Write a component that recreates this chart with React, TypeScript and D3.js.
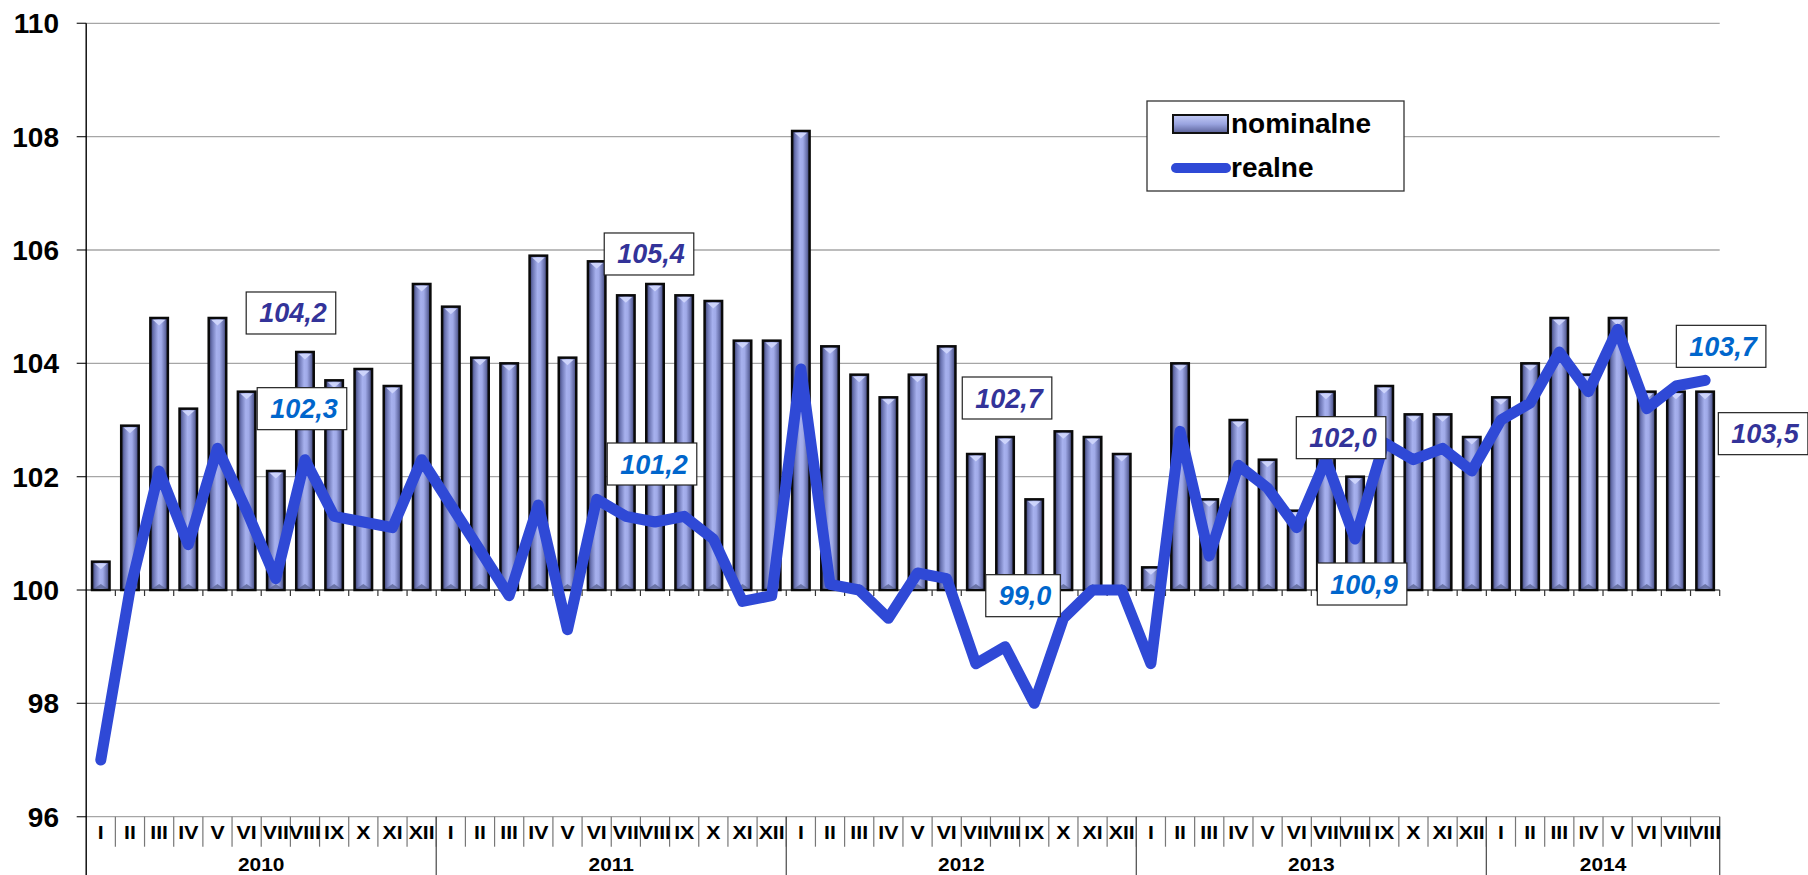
import React from 'react';
import * as d3 from 'd3';

// monthly index, same month previous year = 100
const years = ['2010', '2011', '2012', '2013', '2014'];
const romanMonths = ['I', 'II', 'III', 'IV', 'V', 'VI', 'VII', 'VIII', 'IX', 'X', 'XI', 'XII'];
const monthsInYear = [12, 12, 12, 12, 8];

const nominal = [
  100.5, 102.9, 104.8, 103.2, 104.8, 103.5, 102.1, 104.2, 103.7, 103.9, 103.6, 105.4,
  105.0, 104.1, 104.0, 105.9, 104.1, 105.8, 105.2, 105.4, 105.2, 105.1, 104.4, 104.4,
  108.1, 104.3, 103.8, 103.4, 103.8, 104.3, 102.4, 102.7, 101.6, 102.8, 102.7, 102.4,
  100.4, 104.0, 101.6, 103.0, 102.3, 101.4, 103.5, 102.0, 103.6, 103.1, 103.1, 102.7,
  103.4, 104.0, 104.8, 103.8, 104.8, 103.5, 103.5, 103.5,
];

const real = [
  97.0, 100.0, 102.1, 100.8, 102.5, 101.4, 100.2, 102.3, 101.3, 101.2, 101.1, 102.3,
  101.5, 100.7, 99.9, 101.5, 99.3, 101.6, 101.3, 101.2, 101.3, 100.9, 99.8, 99.9,
  103.9, 100.1, 100.0, 99.5, 100.3, 100.2, 98.7, 99.0, 98.0, 99.5, 100.0, 100.0,
  98.7, 102.8, 100.6, 102.2, 101.8, 101.1, 102.3, 100.9, 102.6, 102.3, 102.5, 102.1,
  103.0, 103.3, 104.2, 103.5, 104.6, 103.2, 103.6, 103.7,
];

const yTicks = [96, 98, 100, 102, 104, 106, 108, 110];

// labelled months (VIII of each year)
const labelMonths = [7, 19, 31, 43, 55];
const nominalLabelOffsets = [[-14, -39], [-6, -30], [2, -39], [-14, -39], [58, 42]];
const realLabelOffsets = [[-3, -51], [-3, -58], [18, -51], [7, 45], [16, -34]];

const W = 1808;
const H = 875;
const FONT = '"Liberation Sans", Arial, sans-serif';
const LINE_COLOR = '#2f49d6';

const months: string[] = [];
monthsInYear.forEach(n => {
  for (let m = 0; m < n; m++) months.push(romanMonths[m]);
});
const idx = months.map((_, i) => i);

const fmt = (v: number) => d3.format('.1f')(v).replace('.', ',');

const ValueLabel: React.FC<{ cx: number; cy: number; text: string; color: string }> = ({ cx, cy, text, color }) => {
  const fs = 27;
  const digits = text.replace(',', '').length;
  const w = (digits * 0.556 + 0.278) * fs + 22;
  const h = 42;
  return (
    <g>
      <rect x={cx - w / 2} y={cy - h / 2} width={w} height={h} fill="#fff" stroke="#222" strokeWidth={1.2} />
      <text
        x={cx + 2}
        y={cy + 9.5}
        textAnchor="middle"
        fontFamily={FONT}
        fontSize={fs}
        fontWeight="bold"
        fontStyle="italic"
        fill={color}
      >
        {text}
      </text>
    </g>
  );
};

const App: React.FC = () => {
  const left = 86.2;
  const right = 1719.7;
  const top = 23.3;
  const bottom = 816.7;

  const x = d3.scaleBand<number>().domain(idx).range([left, right]).padding(0);
  const y = d3.scaleLinear().domain([96, 110]).range([bottom, top]);
  const bw = x.bandwidth();
  const barW = bw * 0.6;
  const cx = (i: number) => (x(i) as number) + bw / 2;

  const line = d3.line<number>()
    .x((_, i) => cx(i))
    .y(d => y(d))
    .curve(d3.curveLinear);

  // year boundaries
  const yearStarts: number[] = [];
  let acc = 0;
  monthsInYear.forEach(n => { yearStarts.push(acc); acc += n; });

  return (
    <svg
      width={W}
      height={H}
      style={{ position: 'absolute', left: 0, top: 0, background: '#fff' }}
    >
      <defs>
        <linearGradient id="barGrad" x1="0" x2="1" y1="0" y2="0">
          <stop offset="0%" stopColor="#363b68" />
          <stop offset="18%" stopColor="#6b74b2" />
          <stop offset="45%" stopColor="#a7b1ee" />
          <stop offset="62%" stopColor="#a0aae8" />
          <stop offset="85%" stopColor="#666ea8" />
          <stop offset="100%" stopColor="#363b68" />
        </linearGradient>
        <linearGradient id="legendGrad" x1="0" x2="0" y1="0" y2="1">
          <stop offset="0%" stopColor="#c4ccf6" />
          <stop offset="50%" stopColor="#9aa4e0" />
          <stop offset="100%" stopColor="#5a6198" />
        </linearGradient>
      </defs>

      {/* gridlines */}
      {yTicks.map(t => (
        <g key={t}>
          <line
            x1={left}
            x2={right}
            y1={y(t)}
            y2={y(t)}
            stroke={t === 100 ? '#555' : '#a6a6a6'}
            strokeWidth={t === 100 ? 1.6 : 1.3}
          />
          <line x1={left - 9.5} x2={left} y1={y(t)} y2={y(t)} stroke="#333" strokeWidth={1.3} />
          <text
            x={59}
            y={y(t) + 10}
            textAnchor="end"
            fontFamily={FONT}
            fontSize={28}
            fontWeight="bold"
            fill="#000"
          >
            {t}
          </text>
        </g>
      ))}

      {/* month ticks on 100 axis */}
      {idx.slice(1).map(i => (
        <line key={'t' + i} x1={x(i)} x2={x(i)} y1={y(100)} y2={y(100) + 6} stroke="#333" strokeWidth={1.2} />
      ))}
      <line x1={right} x2={right} y1={y(100)} y2={y(100) + 6} stroke="#333" strokeWidth={1.2} />

      {/* bars */}
      {nominal.map((v, i) => {
        const bx = (x(i) as number) + (bw - barW) / 2;
        const by = y(v);
        const bh = y(100) - y(v);
        return (
          <g key={'b' + i}>
            <rect x={bx} y={by} width={barW} height={bh} fill="url(#barGrad)" stroke="#0a0a0a" strokeWidth={2.5} />
            <path
              d={`M${bx + 2.5},${by + 1.8} L${bx + barW - 2.5},${by + 1.8} L${bx + barW / 2},${by + 7.5} Z`}
              fill="#cdd4fb"
            />
            <path
              d={`M${bx + 2.5},${by + bh - 1.8} L${bx + barW - 2.5},${by + bh - 1.8} L${bx + barW / 2},${by + bh - 6} Z`}
              fill="#5d6595"
              opacity={0.8}
            />
          </g>
        );
      })}

      {/* real line */}
      <path
        d={line(real) || ''}
        fill="none"
        stroke={LINE_COLOR}
        strokeWidth={11}
        strokeLinejoin="round"
        strokeLinecap="round"
      />

      {/* left axis */}
      <line x1={left} x2={left} y1={top} y2={H} stroke="#000" strokeWidth={1.4} />

      {/* category table at bottom */}
      {idx.slice(1).map(i => (
        <line key={'s' + i} x1={x(i)} x2={x(i)} y1={bottom} y2={bottom + 30} stroke="#777" strokeWidth={1.2} />
      ))}
      {yearStarts.slice(1).map(s => (
        <line key={'ys' + s} x1={x(s)} x2={x(s)} y1={bottom} y2={H} stroke="#555" strokeWidth={1.3} />
      ))}
      <line x1={right} x2={right} y1={bottom} y2={H} stroke="#555" strokeWidth={1.3} />

      {months.map((m, i) => (
        <text
          key={'m' + i}
          transform={`translate(${cx(i)},${838.5}) scale(1.12,1)`}
          textAnchor="middle"
          fontFamily={FONT}
          fontSize={19}
          fontWeight="bold"
          fill="#000"
        >
          {m}
        </text>
      ))}

      {years.map((yr, k) => {
        const s = yearStarts[k];
        const e = s + monthsInYear[k];
        const mid = ((x(s) as number) + (e < months.length ? (x(e) as number) : right)) / 2;
        return (
          <text
            key={yr}
            transform={`translate(${mid},${871}) scale(1.1,1)`}
            textAnchor="middle"
            fontFamily={FONT}
            fontSize={19}
            fontWeight="bold"
            fill="#000"
          >
            {yr}
          </text>
        );
      })}

      {/* value labels */}
      {labelMonths.map((i, k) => (
        <ValueLabel
          key={'ln' + i}
          cx={cx(i) + nominalLabelOffsets[k][0]}
          cy={y(nominal[i]) + nominalLabelOffsets[k][1]}
          text={fmt(nominal[i])}
          color="#333399"
        />
      ))}
      {labelMonths.map((i, k) => (
        <ValueLabel
          key={'lr' + i}
          cx={cx(i) + realLabelOffsets[k][0]}
          cy={y(real[i]) + realLabelOffsets[k][1]}
          text={fmt(real[i])}
          color="#0066cc"
        />
      ))}

      {/* legend */}
      <g>
        <rect x={1147} y={101} width={257} height={90} fill="#fff" stroke="#333" strokeWidth={1.3} />
        <rect x={1173} y={115} width={55} height={18} fill="url(#legendGrad)" stroke="#111" strokeWidth={2} />
        <text x={1231} y={133} fontFamily={FONT} fontSize={28} fontWeight="bold" fill="#000">nominalne</text>
        <line x1={1176} x2={1226} y1={168} y2={168} stroke={LINE_COLOR} strokeWidth={10} strokeLinecap="round" />
        <text x={1231} y={177} fontFamily={FONT} fontSize={28} fontWeight="bold" fill="#000">realne</text>
      </g>
    </svg>
  );
};

export default App;
